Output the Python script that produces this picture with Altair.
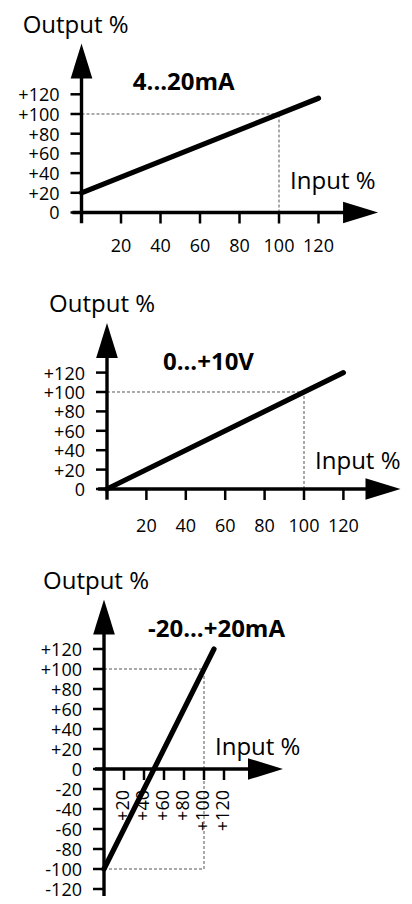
import altair as alt
import pandas as pd

FONT = "Open Sans"

# ---------------- data ----------------
axis_name_y = "Output %"
axis_name_x = "Input %"

p1_title = "4...20mA"
p1_input = [0, 120]
p1_output = [20, 116]

p2_title = "0...+10V"
p2_input = [0, 120]
p2_output = [0, 120]

p3_title = "-20...+20mA"
p3_input = [0, 110]
p3_output = [-100, 120]

x_ticks = [20, 40, 60, 80, 100, 120]
x_labels_plain = ["20", "40", "60", "80", "100", "120"]
x_labels_signed = ["+20", "+40", "+60", "+80", "+100", "+120"]

y_ticks_pos = [0, 20, 40, 60, 80, 100, 120]
y_labels_pos = ["0", "+20", "+40", "+60", "+80", "+100", "+120"]

y_ticks_full = [-120, -100, -80, -60, -40, -20, 0, 20, 40, 60, 80, 100, 120]
y_labels_full = ["-120", "-100", "-80", "-60", "-40", "-20", "0",
                 "+20", "+40", "+60", "+80", "+100", "+120"]

full_scale = 100          # 100 % reference level (dashed guides)
p3_low_scale = -100       # lower reference level of the bipolar range

# ---------------- layout (panel geometry, in data units) ----------------
layout = [
    dict(height=264, xdom=[-37.22, 163.29], ydom=[-60.41, 207.61],
         x_axis_from=-4.6, y_axis_from=-11, x_arrow=141.3, y_arrow=153.8,
         title_pos=(26, 131.5), out_pos=(-29.8, 189.2), in_pos=(105.6, 31),
         xlabel_dy=35),
    dict(height=280, xdom=[-50.25, 150.76], ydom=[-64.95, 223.71],
         x_axis_from=-4.5, y_axis_from=-11, x_arrow=140.1, y_arrow=153.1,
         title_pos=(28.4, 130), out_pos=(-29.4, 189.6), in_pos=(105.6, 27.8),
         xlabel_dy=38),
    dict(height=344, xdom=[-96, 300], ydom=[-127, 217],
         x_axis_from=-9, y_axis_from=-127, x_arrow=161.5, y_arrow=152,
         title_pos=(44, 139), out_pos=(-61, 187), in_pos=(111, 21),
         xlabel_dx=-21),
]
WIDTH = 396

ARROW_RIGHT = "M-1,-0.62 L1,0 L-1,0.62 Z"
ARROW_UP = "M-0.62,1 L0,-1 L0.62,1 Z"


def build_panel(cfg, title, inp, out, yt, yl, xl, rotated, guides):
    xs = alt.Scale(domain=cfg["xdom"], nice=False, zero=False)
    ys = alt.Scale(domain=cfg["ydom"], nice=False, zero=False)

    def X(f):
        return alt.X(f, type="quantitative", scale=xs, axis=None)

    def Y(f):
        return alt.Y(f, type="quantitative", scale=ys, axis=None)

    layers = []

    # dashed reference guides
    gdf = pd.DataFrame(guides, columns=["x", "x2", "y", "y2"])
    layers.append(
        alt.Chart(gdf).mark_rule(color="#555555", strokeWidth=1, strokeDash=[3, 2])
        .encode(x=X("x"), x2="x2", y=Y("y"), y2="y2")
    )

    # axis lines
    xa = pd.DataFrame({"x": [cfg["x_axis_from"]], "x2": [cfg["x_arrow"]], "y": [0]})
    ya = pd.DataFrame({"x": [0], "y": [cfg["y_axis_from"]], "y2": [cfg["y_arrow"]]})
    layers.append(alt.Chart(xa).mark_rule(color="black", strokeWidth=3.4)
                  .encode(x=X("x"), x2="x2", y=Y("y")))
    layers.append(alt.Chart(ya).mark_rule(color="black", strokeWidth=3.4)
                  .encode(x=X("x"), y=Y("y"), y2="y2"))

    # arrow heads
    layers.append(alt.Chart(pd.DataFrame({"x": [cfg["x_arrow"]], "y": [0]}))
                  .mark_point(shape=ARROW_RIGHT, size=1225, filled=True, color="black",
                              opacity=1, strokeWidth=0)
                  .encode(x=X("x"), y=Y("y")))
    layers.append(alt.Chart(pd.DataFrame({"x": [0], "y": [cfg["y_arrow"]]}))
                  .mark_point(shape=ARROW_UP, size=1225, filled=True, color="black",
                              opacity=1, strokeWidth=0)
                  .encode(x=X("x"), y=Y("y")))

    # ticks
    xtdf = pd.DataFrame({"x": x_ticks, "y": [0] * len(x_ticks), "lab": xl})
    ytdf = pd.DataFrame({"x": [0] * len(yt), "y": yt, "lab": yl})
    layers.append(alt.Chart(xtdf).mark_tick(orient="vertical", size=11, thickness=2.5,
                                            yOffset=5.5, color="black", opacity=1)
                  .encode(x=X("x"), y=Y("y")))
    layers.append(alt.Chart(ytdf).mark_tick(orient="horizontal", size=11, thickness=2.5,
                                            xOffset=-5.5, color="black", opacity=1)
                  .encode(x=X("x"), y=Y("y")))

    # tick labels
    if rotated:
        xlab = alt.Chart(xtdf).mark_text(font=FONT, fontSize=18, color="black",
                                         angle=270, align="right", baseline="middle",
                                         dx=cfg["xlabel_dx"])
    else:
        xlab = alt.Chart(xtdf).mark_text(font=FONT, fontSize=18, color="black",
                                         align="center", baseline="middle",
                                         dy=cfg["xlabel_dy"])
    layers.append(xlab.encode(x=X("x"), y=Y("y"), text="lab:N"))
    layers.append(alt.Chart(ytdf).mark_text(font=FONT, fontSize=18, color="black",
                                            align="right", baseline="middle", dx=-22, dy=2)
                  .encode(x=X("x"), y=Y("y"), text="lab:N"))

    # transfer line
    ldf = pd.DataFrame({"x": inp, "y": out})
    layers.append(alt.Chart(ldf).mark_line(color="black", strokeWidth=5.2, strokeCap="round")
                  .encode(x=X("x"), y=Y("y")))

    # annotations
    tdf = pd.DataFrame({"x": [cfg["title_pos"][0]], "y": [cfg["title_pos"][1]], "t": [title]})
    layers.append(alt.Chart(tdf).mark_text(font=FONT, fontSize=24, fontWeight="bold",
                                           color="black", align="left", baseline="middle")
                  .encode(x=X("x"), y=Y("y"), text="t:N"))
    ndf = pd.DataFrame({
        "x": [cfg["out_pos"][0], cfg["in_pos"][0]],
        "y": [cfg["out_pos"][1], cfg["in_pos"][1]],
        "t": [axis_name_y, axis_name_x],
    })
    layers.append(alt.Chart(ndf).mark_text(font=FONT, fontSize=24, color="black",
                                           align="left", baseline="middle")
                  .encode(x=X("x"), y=Y("y"), text="t:N"))

    return alt.layer(*layers).properties(width=WIDTH, height=cfg["height"])


g12 = [
    [0, full_scale, full_scale, full_scale],
    [full_scale, full_scale, 0, full_scale],
]
g3 = [
    [0, full_scale, full_scale, full_scale],
    [0, full_scale, p3_low_scale, p3_low_scale],
    [full_scale, full_scale, p3_low_scale, full_scale],
]

c1 = build_panel(layout[0], p1_title, p1_input, p1_output, y_ticks_pos, y_labels_pos,
                 x_labels_plain, False, g12)
c2 = build_panel(layout[1], p2_title, p2_input, p2_output, y_ticks_pos, y_labels_pos,
                 x_labels_plain, False, g12)
c3 = build_panel(layout[2], p3_title, p3_input, p3_output, y_ticks_full, y_labels_full,
                 x_labels_signed, True, g3)

chart = (alt.vconcat(c1, c2, c3, spacing=0)
         .properties(padding=0, background="white")
         .configure_view(strokeWidth=0))

chart.save("out.html", embed_options={"renderer": "svg", "actions": False})
